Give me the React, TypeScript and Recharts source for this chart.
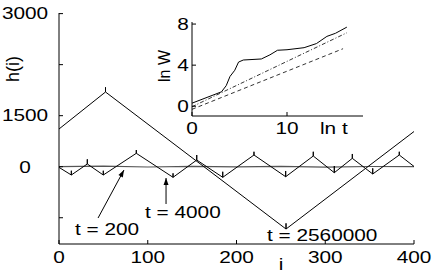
import React from 'react';
import { LineChart, Line, XAxis, YAxis, ReferenceLine, ReferenceDot } from 'recharts';

// ---- main panel: interface profiles h(i) ----
const X_TICKS = [0, 100, 200, 300, 400];
const Y_TICKS = [-750, 0, 750, 1500, 2250];
const Y_TICK_LABELS = ['', '0', '1500', '', '3000'];
const X_DOMAIN: [number, number] = [0, 400];
const Y_DOMAIN: [number, number] = [-1136, 2259];

// t = 200 (almost flat)
const T200_I = [0, 50, 100, 150, 200, 250, 300, 350, 400];
const T200_H = [0, 8, -4, 6, -3, 5, -6, 3, 0];

// t = 4000: extrema positions, heights and cusp tips
const T4000_ENDS = [-10, 4];
const T4000_I = [13.9, 31.9, 49.9, 87.1, 128.5, 155.2, 184.5, 219.7, 255.4, 286.5, 310.2, 330.5, 353.5, 383.4];
const T4000_H = [-122, 40, -122, 197, -156, 98, -156, 172, -147, 157, -88, 123, -107, 172];
const T4000_TIP = [-59, 109, -59, 245, -97, 172, -74, 220, -63, 220, 10, 187, -24, 220];

// t = 2560000
const T256_ENDS = [554, 517];
const T256_I = [52.4, 255.8];
const T256_H = [1098, -916];
const T256_TIP = [1167, -832];

// annotations (data coords)
const LABELS = [
  { text: 't = 200', i: 18, h: -1004 },
  { text: 't = 4000', i: 96.9, h: -754 },
  { text: 't = 2560000', i: 234.4, h: -1092 },
];
const ARROWS = [
  { from: { x: 44, y: -754 }, to: { x: 73.2, y: -49 }, angle: -61.6 },
  { from: { x: 120.6, y: -548 }, to: { x: 120.6, y: -166 }, angle: -90 },
];

// ---- inset: ln W vs ln t ----
const LNT_SOLID = [0, 3.1, 3.6, 4.0, 4.5, 4.9, 5.4, 7.3, 8.2, 9.0, 10.0, 11.8, 13.1, 14.2, 15.1, 16.3];
const LNW_SOLID = [0.3, 1.4, 2.0, 2.9, 3.5, 4.3, 4.5, 4.6, 5.0, 5.45, 5.5, 5.7, 6.1, 6.8, 7.1, 7.7];
const LNT_DASHDOT = [0, 16.3];
const LNW_DASHDOT = [-0.05, 7.15];
const LNT_DASHED = [0, 15.9];
const LNW_DASHED = [-0.3, 5.6];
const INSET_X_TICKS = [0, 10];
const INSET_Y_TICKS = [0, 2, 4, 6, 8];
const INSET_Y_LABELS = ['0', '', '4', '', '8'];

const FONT = '"Liberation Sans", Arial, sans-serif';
const INK = '#000';

function buildProfile(ends: number[], xs: number[], hs: number[], tips: number[]) {
  const pts = [{ i: X_DOMAIN[0], h: ends[0] }];
  xs.forEach((x, k) => {
    pts.push({ i: x, h: hs[k] }, { i: x, h: tips[k] }, { i: x, h: hs[k] });
  });
  pts.push({ i: X_DOMAIN[1], h: ends[1] });
  return pts;
}

const zip = (xs: number[], ys: number[], kx: string, ky: string) =>
  xs.map((x, k) => ({ [kx]: x, [ky]: ys[k] }));

function SText({ x, y, anchor = 'middle', size = 16, children }: any) {
  return (
    <text
      transform={`translate(${x},${y}) scale(1.3,1)`}
      textAnchor={anchor}
      fontSize={size}
      fontFamily={FONT}
      fill={INK}
    >
      {children}
    </text>
  );
}

function VText({ x, y, size = 16, children }: any) {
  return (
    <text
      transform={`translate(${x},${y}) rotate(-90)`}
      textAnchor="middle"
      fontSize={size}
      fontFamily={FONT}
      fill={INK}
    >
      {children}
    </text>
  );
}

const makeLeftTick = (labels: string[], ticks: number[], dx: number) => (p: any) => {
  const k = ticks.indexOf(p.payload.value);
  return (
    <g>
      <line x1={p.x} x2={p.x + 4} y1={p.y} y2={p.y} stroke={INK} />
      {labels[k] ? <SText x={p.x - dx} y={p.y + 5.8}>{labels[k]}</SText> : null}
    </g>
  );
};
const makeBottomTick = (dy: number) => (p: any) => (
  <g>
    <line x1={p.x} x2={p.x} y1={p.y} y2={p.y - 4} stroke={INK} />
    <SText x={p.x} y={p.y + dy}>{p.payload.value}</SText>
  </g>
);
const TopTick = (p: any) => <line x1={p.x} x2={p.x} y1={p.y} y2={p.y + 4} stroke={INK} />;
const RightTick = (p: any) => <line x1={p.x - 4} x2={p.x} y1={p.y} y2={p.y} stroke={INK} />;

function Inset() {
  return (
    <LineChart width={210} height={125} margin={{ top: 8, right: 7, bottom: 0, left: 0 }}>
      <XAxis type="number" dataKey="t" domain={[0, 18]} ticks={INSET_X_TICKS} height={23}
        tickSize={0} tickMargin={0} tickLine={false} axisLine={{ stroke: INK }} tick={makeBottomTick(18)} />
      <XAxis xAxisId="top" orientation="top" type="number" domain={[0, 18]} ticks={INSET_X_TICKS} height={0}
        tickSize={0} tickMargin={0} tickLine={false} axisLine={{ stroke: INK }} tick={TopTick} />
      <YAxis type="number" domain={[-0.95, 8.2]} ticks={INSET_Y_TICKS} width={32}
        tickSize={0} tickMargin={0} tickLine={false} axisLine={{ stroke: INK }}
        tick={makeLeftTick(INSET_Y_LABELS, INSET_Y_TICKS, 9)} />
      <YAxis yAxisId="right" orientation="right" type="number" domain={[-0.95, 8.2]} ticks={INSET_Y_TICKS} width={0}
        tickSize={0} tickMargin={0} tickLine={false} axisLine={{ stroke: INK }} tick={RightTick} />
      <Line data={zip(LNT_SOLID, LNW_SOLID, 't', 'w')} dataKey="w" type="linear" stroke={INK}
        strokeWidth={1} dot={false} isAnimationActive={false} />
      <Line data={zip(LNT_DASHDOT, LNW_DASHDOT, 't', 'w')} dataKey="w" type="linear" stroke={INK}
        strokeWidth={0.8} strokeDasharray="4 2 1 2" dot={false} isAnimationActive={false} />
      <Line data={zip(LNT_DASHED, LNW_DASHED, 't', 'w')} dataKey="w" type="linear" stroke={INK}
        strokeWidth={0.8} strokeDasharray="4 3" dot={false} isAnimationActive={false} />
    </LineChart>
  );
}

export default function App() {
  const t200 = zip(T200_I, T200_H, 'i', 'h');
  const t4000 = buildProfile(T4000_ENDS, T4000_I, T4000_H, T4000_TIP);
  const t256 = buildProfile(T256_ENDS, T256_I, T256_H, T256_TIP);

  return (
    <div style={{ position: 'absolute', left: 0, top: 0, width: 436, height: 273, background: '#fff' }}>
      <LineChart width={436} height={273} margin={{ top: 13, right: 22, bottom: 0, left: 0 }}>
        <XAxis type="number" dataKey="i" domain={X_DOMAIN} ticks={X_TICKS} height={29}
          tickSize={0} tickMargin={0} tickLine={false} axisLine={{ stroke: INK }} tick={makeBottomTick(19)} />
        <XAxis xAxisId="top" orientation="top" type="number" domain={X_DOMAIN} ticks={X_TICKS} height={0}
          tickSize={0} tickMargin={0} tickLine={false} axisLine={{ stroke: INK }} tick={TopTick} />
        <YAxis type="number" domain={Y_DOMAIN} ticks={Y_TICKS} width={59}
          tickSize={0} tickMargin={0} tickLine={false} axisLine={{ stroke: INK }}
          tick={makeLeftTick(Y_TICK_LABELS, Y_TICKS, 34)} />
        <YAxis yAxisId="right" orientation="right" type="number" domain={Y_DOMAIN} ticks={Y_TICKS} width={0}
          tickSize={0} tickMargin={0} tickLine={false} axisLine={{ stroke: INK }} tick={RightTick} />

        <Line data={t200} dataKey="h" type="linear" stroke="#555" strokeWidth={1.2}
          dot={false} isAnimationActive={false} />
        <Line data={t4000} dataKey="h" type="linear" stroke={INK} strokeWidth={1}
          dot={false} isAnimationActive={false} />
        <Line data={t256} dataKey="h" type="linear" stroke={INK} strokeWidth={1}
          dot={false} isAnimationActive={false} />

        {ARROWS.map((a, k) => (
          <ReferenceLine key={'a' + k} segment={[a.from, a.to]} stroke={INK} strokeWidth={1} />
        ))}
        {ARROWS.map((a, k) => (
          <ReferenceDot key={'h' + k} x={a.to.x} y={a.to.y} r={0}
            shape={(p: any) => (
              <polygon points="0,0 -7,-2.5 -7,2.5" fill={INK}
                transform={`translate(${p.cx},${p.cy}) rotate(${a.angle})`} />
            )} />
        ))}
        {LABELS.map((l, k) => (
          <ReferenceDot key={'l' + k} x={l.i} y={l.h} r={0}
            shape={(p: any) => <SText x={p.cx} y={p.cy} anchor="start">{l.text}</SText>} />
        ))}
      </LineChart>

      <div style={{ position: 'absolute', left: 160, top: 14 }}>
        <Inset />
      </div>

      <svg width={436} height={273} style={{ position: 'absolute', left: 0, top: 0, pointerEvents: 'none' }}>
        <VText x={19} y={69} size={18}>h(i)</VText>
        <SText x={281} y={270}>i</SText>
        <VText x={170} y={66}>ln W</VText>
        <SText x={320} y={134} anchor="start">ln t</SText>
      </svg>
    </div>
  );
}
